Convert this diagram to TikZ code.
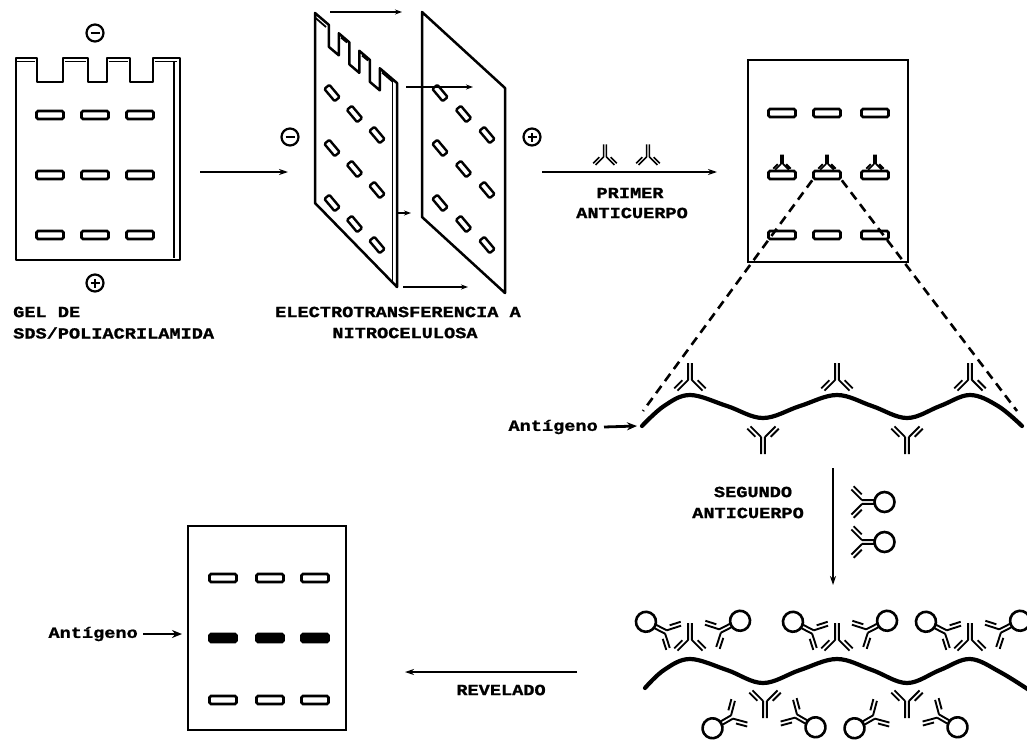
\documentclass[tikz,border=0pt]{standalone}
\usepackage{fontspec}
\newfontfamily\labfont[FakeStretch=1.2, BoldFeatures={FakeBold=1.2}]{Liberation Mono}
\usetikzlibrary{arrows.meta,calc}
\tikzset{
  abl/.style={line width=1.9},
  abY/.pic={
    \draw[abl] (-1.9,0) -- (-1.9,17) (1.9,0) -- (1.9,17)
               (-1.9,0) -- (-12.5,-10.6) (1.9,0) -- (12.5,-10.6)
               (-7.6,-0.2) -- (-15.8,-8.4) (7.6,-0.2) -- (15.8,-8.4);
  },
  abS/.pic={
    \draw[abl] (0,1.9) -- (12.5,1.9) (0,-1.9) -- (12.5,-1.9)
               (0,1.9) -- (-10.6,12.5) (0,-1.9) -- (-10.6,-12.5)
               (-0.2,7.6) -- (-8.4,15.8) (-0.2,-7.6) -- (-8.4,-15.8);
    \draw[line width=2.6] (22.5,0) circle[radius=10];
  }
}
\begin{document}
\begin{tikzpicture}[x=1pt,y=-1pt,
  every node/.style={inner sep=0},
  lbl/.style={font=\labfont\bfseries\fontsize{15.5}{18}\selectfont},
  outl/.style={line width=2.5, line join=round},
  band/.style={draw, line width=2.6, fill=white, rounded corners=1.5, minimum width=27, minimum height=8},
  fband/.style={band, fill=black},
  sband/.style={draw, line width=2.4, fill=white, rounded corners=1.2, minimum width=16, minimum height=6.5, rotate=-50},
  sign/.style={circle, draw, line width=2.2, minimum size=17},
  arr/.style={line width=1.8, -{Stealth[length=9,width=6]}},
  sarr/.style={line width=1.6, -{Stealth[length=7,width=5]}},
  barr/.style={line width=2.8, -{Stealth[length=10,width=8]}},
  wave/.style={line width=4.2, line cap=round},
  dashln/.style={line width=2.6, dash pattern=on 9 off 6},
  blot/.style={draw, line width=2.5, minimum width=160, minimum height=202}
]
\useasboundingbox (0,0) rectangle (1027,739);

% ---------- Panel 1: gel ----------
\node[sign] (m1) at (95,33) {};
\draw[line width=2.4] ([xshift=-4.5]m1.center) -- ([xshift=4.5]m1.center);
\draw[outl] (16,58) -- (37,58) -- (37,82) -- (63,82) -- (63,58) -- (88,58) -- (88,82)
  -- (107,82) -- (107,58) -- (130,58) -- (130,82) -- (153,82) -- (153,58) -- (180,58)
  -- (180,260) -- (16,260) -- cycle;
\draw[line width=1.8] (174,62) -- (174,258);
\draw[line width=1.8] (16,61.5) -- (35,61.5) (65,61.5) -- (86,61.5) (109,61.5) -- (128,61.5) (155,61.5) -- (177,61.5);
\foreach \r/\y in {1/115,2/175,3/235}
  \foreach \c/\x in {1/50,2/95,3/140}
    \node[band] (g\r\c) at (\x,\y) {};
\node[sign] (p1) at (95,283) {};
\draw[line width=2.4] ([xshift=-4.5]p1.center) -- ([xshift=4.5]p1.center)
                    ([yshift=-4.5]p1.center) -- ([yshift=4.5]p1.center);
\node[lbl, anchor=west] (l1a) at (13,312) {GEL DE};
\node[lbl, anchor=west] (l1b) at (13,333) {SDS/POLIACRILAMIDA};

% arrow 1
\coordinate (a1s) at (200,172);
\coordinate (a1e) at (288,172);
\draw[arr] (a1s) -- (a1e);

% ---------- Panel 2: transfer ----------
\node[sign] (m2) at (290,137) {};
\draw[line width=2.4] ([xshift=-4.5]m2.center) -- ([xshift=4.5]m2.center);
\node[sign] (p2) at (532,137) {};
\draw[line width=2.4] ([xshift=-4.5]p2.center) -- ([xshift=4.5]p2.center)
                    ([yshift=-4.5]p2.center) -- ([yshift=4.5]p2.center);
% gel sheet in perspective
\draw[outl] (315,13) -- (328.9,24.9) -- ++(0,22) -- (338.8,55.3) -- (338.8,33.3)
  -- (349.4,42.4) -- ++(0,22) -- (359.3,72.8) -- (359.3,50.8)
  -- (369.9,59.9) -- ++(0,22) -- (379.8,90.3) -- (379.8,68.3)
  -- (397,83) -- (397,287) -- (315,203) -- cycle;
\draw[line width=1.8] (392.5,82) -- (392.5,284);
\draw[line width=1.8] (315,17.5) -- (326,27) (341,37.5) -- (347,42.5) (362,55.5) -- (368,60.5) (382,72.5) -- (393,82);
% nitrocellulose sheet
\draw[outl] (422,12) -- (505,88) -- (505,293) -- (422,217) -- cycle;
\foreach \r in {1,2,3}
  \foreach \c in {1,2,3} {
    \node[sband] (s\r\c) at ({332+22.5*(\c-1)},{93+21*(\c-1)+55*(\r-1)}) {};
    \node[sband] (n\r\c) at ({440+23.5*(\c-1)},{93+21*(\c-1)+55*(\r-1)}) {};
  }
\coordinate (t1a) at (330,12);  \coordinate (t1b) at (402,12);
\coordinate (t2a) at (406,87);  \coordinate (t2b) at (473,87);
\coordinate (t3a) at (398,213); \coordinate (t3b) at (411,213);
\coordinate (t4a) at (403,287); \coordinate (t4b) at (468,287);
\draw[sarr] (t1a) -- (t1b);
\draw[sarr] (t2a) -- (t2b);
\draw[sarr] (t3a) -- (t3b);
\draw[sarr] (t4a) -- (t4b);
\node[lbl] (l2a) at (398,312) {ELECTROTRANSFERENCIA A};
\node[lbl] (l2b) at (405,333) {NITROCELULOSA};

% arrow 2 (primer anticuerpo)
\coordinate (a2s) at (542,172);
\coordinate (a2e) at (717,172);
\draw[arr] (a2s) -- (a2e);
\pic[rotate=180, scale=.75, abl/.style={line width=1.6}] at (605,157) {abY};
\pic[rotate=180, scale=.75, abl/.style={line width=1.6}] at (648,157) {abY};
\node[lbl] (l3a) at (630,193) {PRIMER};
\node[lbl] (l3b) at (632,213) {ANTICUERPO};

% ---------- Panel 3: blot ----------
\node[blot] (blot1) at (828,161) {};
\foreach \r/\y in {1/113,2/175,3/235}
  \foreach \c/\x in {1/782,2/827,3/875}
    \node[band] (b\r\c) at (\x,\y) {};
\foreach \x in {782,827,875}
  \pic[rotate=180, scale=.55, abl/.style={line width=1.7}] at (\x,164) {abY};
\coordinate (wL) at (643,411);
\coordinate (wR) at (1017,411);
\draw[dashln] (b22.south west) -- (wL);
\draw[dashln] (b22.south east) -- (wR);

% ---------- antigen with primary antibodies ----------
\draw[wave] plot[smooth, tension=0.6] coordinates {(642,426) (664,406) (690,395) (727,406) (763,418) (800,406) (837,395) (872,406) (907,418) (940,406) (970,395) (998,406) (1022,426)};
\foreach \x in {690,837,970}
  \pic[rotate=180] at (\x,380) {abY};
\foreach \x in {763,907}
  \pic at (\x,437) {abY};
\node[lbl, anchor=east] (ag1) at (598,427) {Antígeno};
\coordinate (ag1t) at (637,426);
\draw[barr] ([xshift=6]ag1.east) -- (ag1t);

% second antibody step
\coordinate (s2a) at (833,468);
\coordinate (s2b) at (833,585);
\draw[arr] (s2a) -- (s2b);
\node[lbl] (l4a) at (753,492) {SEGUNDO};
\node[lbl] (l4b) at (748,513) {ANTICUERPO};
\pic at (862,502) {abS};
\pic at (862,542) {abS};

% ---------- bound complex ----------
\begin{scope}[shift={(0,264)}]
\draw[wave] plot[smooth, tension=0.6] coordinates {(645,424) (664,406) (690,395) (727,406) (763,419) (800,406) (837,395) (872,406) (907,419) (940,406) (970,395) (1000,408) (1032,428)};
\end{scope}
\foreach \p in {690,837,970} {
  \pic[rotate=180] at (\p,640) {abY};
  \pic[rotate=153] at (\p-24,632) {abS};
  \pic[rotate=27] at (\p+30,631) {abS};
}
\foreach \t in {765,907} {
  \pic at (\t,701) {abY};
  \pic[rotate=210] at (\t-33,717) {abS};
  \pic[rotate=-30] at (\t+31,716) {abS};
}

% revelado arrow
\coordinate (rvs) at (577,672);
\coordinate (rve) at (405,672);
\draw[arr] (rvs) -- (rve);
\node[lbl] (l5) at (501,690) {REVELADO};

% ---------- result blot ----------
\node[blot, minimum width=158, minimum height=204] (blot2) at (267,628) {};
\foreach \c/\x in {1/223,2/270,3/315} {
  \node[band] (q1\c) at (\x,578) {};
  \node[fband] (q2\c) at (\x,638) {};
  \node[band] (q3\c) at (\x,700) {};
}
\node[lbl, anchor=east] (ag2) at (138,634) {Antígeno};
\coordinate (ag2t) at (182,634);
\draw[barr] ([xshift=5]ag2.east) -- (ag2t);
\end{tikzpicture}
\end{document}
